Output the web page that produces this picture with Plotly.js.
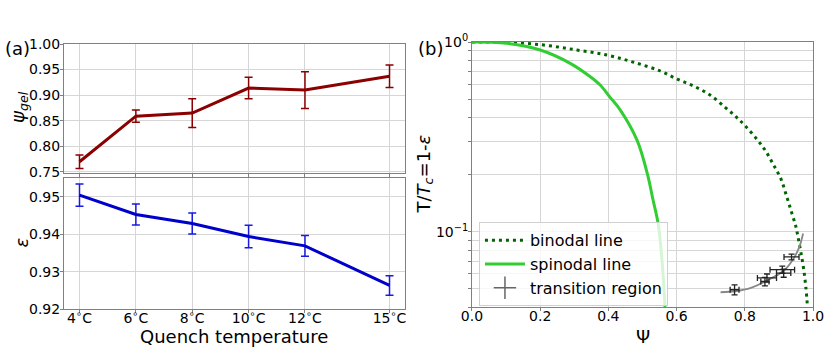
<!DOCTYPE html>
<html>
<head>
<meta charset="utf-8">
<script src="https://cdn.plot.ly/plotly-3.0.1.min.js"></script>
<style>
  html, body { margin: 0; padding: 0; background: #fff; }
  #chart { width: 830px; height: 353px; }
</style>
</head>
<body>
<div id="chart"></div>
<script>
// quench series (left panels)
const temps = [4, 6, 8, 10, 12, 15];
const tempLabels = ["4<sup>∘</sup>C", "6<sup>∘</sup>C", "8<sup>∘</sup>C", "10<sup>∘</sup>C", "12<sup>∘</sup>C", "15<sup>∘</sup>C"];
const psiGel = [0.770, 0.859, 0.865, 0.914, 0.910, 0.937];
const psiErr = [0.013, 0.012, 0.028, 0.021, 0.036, 0.022];
const eps = [0.9505, 0.9453, 0.9429, 0.9394, 0.9369, 0.9263];
const epsErr = [0.0030, 0.0028, 0.0028, 0.0030, 0.0028, 0.0026];

// phase diagram (right panel)
const binodalPsi = [0, 0.102, 0.21, 0.308, 0.396, 0.474, 0.548, 0.602, 0.651, 0.700, 0.744, 0.774, 0.801, 0.837, 0.862, 0.886, 0.906, 0.923, 0.937, 0.950, 0.956, 0.965, 0.973, 0.979, 0.984];
const binodalT = [1.0, 0.996, 0.964, 0.907, 0.854, 0.782, 0.708, 0.637, 0.585, 0.523, 0.450, 0.404, 0.362, 0.305, 0.265, 0.222, 0.190, 0.153, 0.127, 0.106, 0.094, 0.077, 0.063, 0.051, 0.040];
const spinPsi = [0, 0.102, 0.2, 0.288, 0.347, 0.376, 0.404, 0.435, 0.484, 0.514, 0.531, 0.546, 0.558, 0.566];
const spinT = [1.0, 0.984, 0.907, 0.772, 0.656, 0.593, 0.514, 0.438, 0.304, 0.203, 0.147, 0.110, 0.068, 0.040];
const fitPsi = [0.729, 0.772, 0.818, 0.867, 0.916, 0.945, 0.960, 0.971];
const fitT = [0.0480, 0.0486, 0.0506, 0.0556, 0.0627, 0.0732, 0.0832, 0.098];

const logMajor = [0.1, 1];
const logMajorText = ["10<sup>−1</sup>", "10<sup>0</sup>"];
const logMinor = [0.04, 0.05, 0.06, 0.07, 0.08, 0.09, 0.2, 0.3, 0.4, 0.5, 0.6, 0.7, 0.8, 0.9];

const FONT = "DejaVu Sans, sans-serif";
const GRID = "#d6d6d6";
const SPINE = "#808080";

const transY = eps.map(e => 1 - e);

const traces = [
  {
    x: temps, y: psiGel, xaxis: "x", yaxis: "y",
    type: "scatter", mode: "lines",
    line: { color: "#8b0000", width: 3 },
    error_y: { type: "data", array: psiErr, color: "#8b0000", thickness: 1.5, width: 4 },
    showlegend: false
  },
  {
    x: temps, y: eps, xaxis: "x2", yaxis: "y2",
    type: "scatter", mode: "lines",
    line: { color: "#0000cd", width: 3 },
    error_y: { type: "data", array: epsErr, color: "#1a1ae0", thickness: 1.5, width: 4 },
    showlegend: false
  },
  {
    x: binodalPsi, y: binodalT, xaxis: "x3", yaxis: "y3",
    type: "scatter", mode: "lines", name: "binodal line",
    line: { color: "#006400", width: 3, dash: "3px,4px", shape: "spline" }
  },
  {
    x: spinPsi, y: spinT, xaxis: "x3", yaxis: "y3",
    type: "scatter", mode: "lines", name: "spinodal line",
    line: { color: "#32cd32", width: 3, shape: "spline" }
  },
  {
    x: fitPsi, y: fitT, xaxis: "x3", yaxis: "y3",
    type: "scatter", mode: "lines",
    line: { color: "#888888", width: 1.8, shape: "spline" },
    showlegend: false
  },
  {
    x: psiGel, y: transY, xaxis: "x3", yaxis: "y3",
    type: "scatter", mode: "markers",
    marker: { size: 1, color: "rgba(0,0,0,0)" },
    error_x: { type: "data", array: psiErr, color: "#222", thickness: 1.3, width: 3 },
    error_y: { type: "data", array: epsErr, color: "#222", thickness: 1.3, width: 3 },
    showlegend: false
  },
  {
    // legend entry only
    x: [null], y: [null], xaxis: "x3", yaxis: "y3",
    type: "scatter", mode: "markers", name: "transition region",
    marker: { symbol: "cross-thin", size: 18, color: "#666", line: { width: 1.5, color: "#666" } }
  }
];

const baseAxis = {
  showline: true, mirror: true, linecolor: SPINE, linewidth: 1,
  showgrid: true, gridcolor: GRID, gridwidth: 1,
  zeroline: false, ticks: "outside", ticklen: 3, tickcolor: SPINE,
  tickfont: { family: FONT, size: 14, color: "#000" }
};

const titleFont = { family: FONT, size: 18, color: "#000" };
const note = (text, x, y, angle) => ({
  text, xref: "paper", yref: "paper", x, y, xanchor: "center", yanchor: "middle",
  showarrow: false, font: titleFont, textangle: angle || 0
});

const layout = {
  width: 830, height: 353,
  margin: { l: 64, r: 17, t: 42, b: 44 },
  paper_bgcolor: "#fff", plot_bgcolor: "#fff",
  font: { family: FONT, color: "#000" },
  xaxis: Object.assign({}, baseAxis, {
    domain: [0, 0.4553], anchor: "y", range: [3.45, 15.55],
    tickvals: temps, showticklabels: false
  }),
  yaxis: Object.assign({}, baseAxis, {
    domain: [0.5075, 0.9925], anchor: "x", range: [0.747, 1.0],
    tickvals: [0.75, 0.80, 0.85, 0.90, 0.95, 1.00], tickformat: ".2f",
    ticklabelstandoff: -3
  }),
  xaxis2: Object.assign({}, baseAxis, {
    domain: [0, 0.4553], anchor: "y2", range: [3.45, 15.55],
    tickvals: temps, ticktext: tempLabels,
    ticklabelstandoff: -7
  }),
  yaxis2: Object.assign({}, baseAxis, {
    domain: [0, 0.4895], anchor: "x2", range: [0.92, 0.955],
    tickvals: [0.92, 0.93, 0.94, 0.95], tickformat: ".2f",
    ticklabelstandoff: -3
  }),
  xaxis3: Object.assign({}, baseAxis, {
    domain: [0.5447, 1], anchor: "y3", range: [0, 1],
    tickvals: [0, 0.2, 0.4, 0.6, 0.8, 1.0], tickformat: ".1f",
    ticklabelstandoff: -7
  }),
  yaxis3: Object.assign({}, baseAxis, {
    domain: [0.0064, 1], anchor: "x3", type: "log", range: [Math.log10(0.04), 0],
    tickvals: logMajor, ticktext: logMajorText,
    ticklabelstandoff: -3,
    minor: { tickvals: logMinor, ticks: "outside", ticklen: 2.5, tickcolor: SPINE, showgrid: true, gridcolor: GRID, gridwidth: 1 }
  }),
  legend: {
    x: 0.554, y: 0.325, xanchor: "left", yanchor: "top",
    bgcolor: "rgba(255,255,255,0.8)", bordercolor: "#d0d0d0", borderwidth: 1,
    font: { family: FONT, size: 16, color: "#000" },
    itemwidth: 40, tracegroupgap: 0
  },
  annotations: [
    note("(a)", -0.062, 0.975),
    note("(b)", 0.489, 0.975),
    note("<i>ψ</i><sub><i>gel</i></sub>", -0.060, 0.757, -90),
    note("<i>ε</i>", -0.058, 0.247, -90),
    note("T/<i>T</i><sub><i>c</i></sub>=1-<i>ε</i>", 0.482, 0.504, -90),
    note("Quench temperature", 0.2276, -0.103),
    note("Ψ", 0.773, -0.103)
  ]
};

Plotly.newPlot("chart", traces, layout, { staticPlot: true, displayModeBar: false });
</script>
</body>
</html>
